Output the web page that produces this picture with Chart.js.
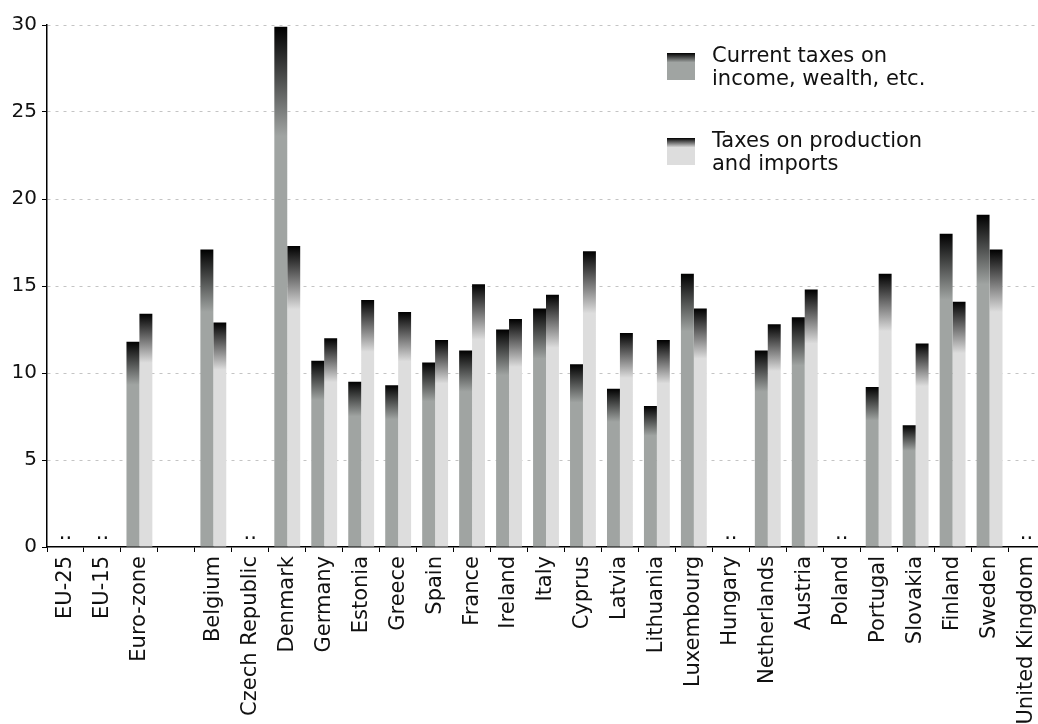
<!DOCTYPE html>
<html>
<head>
<meta charset="utf-8">
<script src="https://cdn.jsdelivr.net/npm/chart.js@4"></script>
<style>
  html, body { margin: 0; padding: 0; background: #fff; overflow: hidden; }
  #wrap { width: 1050px; height: 724px; }
</style>
</head>
<body>
<div id="wrap"><canvas id="tax-chart" width="1050" height="724"></canvas></div>
<script>
const countries = [
  "EU-25", "EU-15", "Euro-zone", "", "Belgium", "Czech Republic", "Denmark",
  "Germany", "Estonia", "Greece", "Spain", "France", "Ireland", "Italy",
  "Cyprus", "Latvia", "Lithuania", "Luxembourg", "Hungary", "Netherlands",
  "Austria", "Poland", "Portugal", "Slovakia", "Finland", "Sweden",
  "United Kingdom",
];

// null = not available (shown as "..")
const incomeTaxes = [
  null, null, 11.8, null, 17.1, null, 29.9, 10.7, 9.5, 9.3, 10.6, 11.3, 12.5,
  13.7, 10.5, 9.1, 8.1, 15.7, null, 11.3, 13.2, null, 9.2, 7.0, 18.0, 19.1, null,
];
const productionTaxes = [
  null, null, 13.4, null, 12.9, null, 17.3, 12.0, 14.2, 13.5, 11.9, 15.1, 13.1,
  14.5, 17.0, 12.3, 11.9, 13.7, null, 12.8, 14.8, null, 15.7, 11.7, 14.1, 17.1, null,
];

const seriesNames = [
  ["Current taxes on", "income, wealth, etc."],
  ["Taxes on production", "and imports"],
];
const yTicks = [0, 5, 10, 15, 20, 25, 30];

const incomeColor = "#a0a4a2";
const productionColor = "#dddddd";
const textColor = "#111";

Chart.defaults.font.family = "'DejaVu Sans', Verdana, sans-serif";

// black at the top of a bar, fading into the series colour
function topShade(c, top, bottom, base, stop) {
  const g = c.createLinearGradient(0, top, 0, bottom);
  g.addColorStop(0, "#000");
  g.addColorStop(stop, base);
  g.addColorStop(1, base);
  return g;
}

function barFill(base) {
  return (context) => {
    const chart = context.chart;
    const y = chart.scales.y;
    const v = context.raw;
    if (!y || v == null) return base;
    const top = y.getPixelForValue(v);
    const bottom = y.getPixelForValue(0);
    if (!(bottom > top)) return base;
    return topShade(chart.ctx, top, bottom, base, 0.21);
  };
}

const extras = {
  id: "extras",
  afterDatasetsDraw(chart) {
    const c = chart.ctx;
    const x = chart.scales.x;
    const y = chart.scales.y;
    c.save();
    c.fillStyle = textColor;
    c.font = "21px 'DejaVu Sans', Verdana, sans-serif";
    c.textBaseline = "alphabetic";

    // ".." for countries with no data
    c.textAlign = "center";
    countries.forEach((name, i) => {
      if (name && incomeTaxes[i] == null && productionTaxes[i] == null) {
        c.fillText("..", x.getPixelForValue(i), y.getPixelForValue(0) - 8);
      }
    });

    // legend, top right inside the plot
    c.textAlign = "left";
    chart.data.datasets.forEach((ds, i) => {
      const top = 53 + i * 85;
      c.fillStyle = topShade(c, top, top + 27, ds.baseColor, 0.35);
      c.fillRect(667, top, 28, 27);
      c.fillStyle = textColor;
      ds.label.split("\n").forEach((line, j) => {
        c.fillText(line, 712, top + 9 + j * 23);
      });
    });
    c.restore();
  },
};

const ct = document.getElementById("tax-chart");

new Chart(ct, {
  type: "bar",
  data: {
    labels: countries,
    datasets: [
      {
        label: seriesNames[0].join("\n"),
        data: incomeTaxes,
        baseColor: incomeColor,
        backgroundColor: barFill(incomeColor),
        borderWidth: 0,
        categoryPercentage: 0.7,
        barPercentage: 1.0,
      },
      {
        label: seriesNames[1].join("\n"),
        data: productionTaxes,
        baseColor: productionColor,
        backgroundColor: barFill(productionColor),
        borderWidth: 0,
        categoryPercentage: 0.7,
        barPercentage: 1.0,
      },
    ],
  },
  plugins: [extras],
  options: {
    responsive: false,
    animation: false,
    events: [],
    layout: { padding: { top: 25, right: 5, left: 0, bottom: 0 } },
    plugins: {
      legend: { display: false },
      tooltip: { enabled: false },
    },
    scales: {
      x: {
        grid: {
          drawOnChartArea: false,
          offset: true,
          tickLength: 5,
          color: "#000",
          tickColor: "#000",
        },
        border: { color: "#000", width: 1.5 },
        ticks: {
          color: textColor,
          font: { size: 21 },
          minRotation: 90,
          maxRotation: 90,
          autoSkip: false,
          padding: 4,
        },
        afterFit(s) {
          s.height = 177;
          s.paddingLeft = 0;
          s.paddingRight = 0;
        },
      },
      y: {
        min: 0,
        max: 30,
        afterBuildTicks(s) {
          s.ticks = yTicks.map((v) => ({ value: v }));
        },
        ticks: { color: textColor, font: { size: 20 }, padding: 5 },
        grid: {
          color: (c) => (c.tick && c.tick.value === 0 ? "rgba(0,0,0,0)" : "#c4c4c4"),
          tickColor: "#000",
          tickLength: 5,
          lineWidth: 1,
        },
        border: { color: "#000", width: 1.5, dash: [3, 5] },
        afterFit(s) {
          s.width = 47;
        },
      },
    },
  },
});
</script>
</body>
</html>
